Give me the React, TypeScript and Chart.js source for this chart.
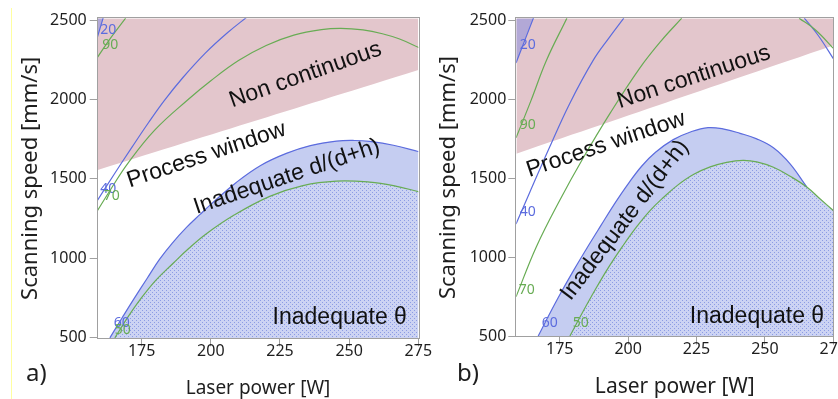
import React, { useEffect, useRef } from "react";
import { Chart, registerables } from "chart.js";
Chart.register(...registerables);

// ---------- shared axis data ----------
const X_TICKS = [175, 200, 225, 250, 275];
const Y_TICKS = [500, 1000, 1500, 2000, 2500];
const X_LIMITS = [159.1, 275];
const A_Y_LIMITS = [497, 2511];
const B_Y_LIMITS = [496, 2514];

// ---------- panel a ----------
const A_PINK_W = [159.1, 275];
const A_PINK_V = [1557, 2186];
const A_C20_W = [159.0, 161.1];
const A_C20_V = [2393, 2515];
const A_C90_W = [159.0, 164, 169.2];
const A_C90_V = [2265, 2392, 2512];
const A_C40_W = [159, 165, 171.5, 177.5, 183.3, 190, 198, 206, 213.5];
const A_C40_V = [1365, 1528, 1700, 1855, 1996, 2140, 2292, 2420, 2525];
const A_C70_W = [159, 164, 170, 179.7, 191.8, 200, 210, 220, 230, 240, 247, 255, 262, 268, 275.5];
const A_C70_V = [1300, 1440, 1598, 1807, 2000, 2118, 2245, 2340, 2405, 2440, 2448, 2438, 2414, 2382, 2325];
const A_C60_W = [163.5, 168, 171.9, 177, 181.5, 186, 191.2, 196, 200, 209.2, 218, 227.3, 236, 245.4, 252, 257.4, 266, 275.5];
const A_C60_V = [500, 628, 737, 875, 995, 1095, 1195, 1275, 1340, 1478, 1585, 1661, 1710, 1738, 1742, 1736, 1712, 1670];
const A_C50_W = [165.3, 170, 174.3, 180, 186.3, 192, 198.4, 208, 221.3, 233.3, 245.4, 257.4, 266, 275.5];
const A_C50_V = [500, 630, 737, 860, 968, 1062, 1155, 1268, 1390, 1458, 1486, 1480, 1458, 1418];
const A_LABEL_TEXT = ["20", "90", "40", "70", "60", "50"];
const A_LABEL_W = [162.9, 163.6, 162.9, 164.2, 167.8, 168.2];
const A_LABEL_V = [2437, 2343, 1436, 1392, 592, 548];
const A_REGION_TEXT = ["Non continuous", "Process window", "Inadequate d/(d+h)", "Inadequate θ"];
const A_REGION_W = [234.2, 198.4, 227.5, 246.6];
const A_REGION_V = [2154, 1650, 1513, 630];

// ---------- panel b ----------
const B_PINK_W = [159.1, 275];
const B_PINK_V = [1656, 2342];
const B_C20_W = [159.0, 165.4];
const B_C20_V = [2231, 2517];
const B_C90_W = [159, 164.5, 170.1, 177.6];
const B_C90_V = [1756, 1994, 2247, 2515];
const B_C40_W = [159, 164, 171.3, 178.6, 187.2, 193, 198.4];
const B_C40_V = [1210, 1410, 1698, 1973, 2247, 2390, 2515];
const B_C70_W = [159, 166.4, 175, 183.6, 193.3, 204.3, 212, 219.6];
const B_C70_V = [749, 1065, 1361, 1630, 1910, 2200, 2370, 2515];
const B_TR_GREEN_W = [262.5, 268.5, 275.5];
const B_TR_GREEN_V = [2515, 2440, 2315];
const B_TR_BLUE_W = [264.4, 269.5, 275.5];
const B_TR_BLUE_V = [2515, 2405, 2245];
const B_C60_W = [167.1, 171, 175, 180, 185, 190, 195, 200, 205, 210, 216.5, 223, 229.2, 235, 240.9, 247, 253.1, 259.2, 265.3];
const B_C60_V = [500, 632, 762, 915, 1060, 1200, 1338, 1465, 1578, 1665, 1745, 1795, 1821, 1812, 1785, 1750, 1694, 1592, 1445];
const B_C50_W = [178.7, 183, 188, 193, 198, 203, 208, 213, 218, 224, 230, 236, 242, 247, 253.1, 259.2, 265.3, 270, 275.5];
const B_C50_V = [500, 640, 795, 940, 1070, 1190, 1295, 1380, 1455, 1525, 1572, 1601, 1614, 1604, 1570, 1513, 1445, 1372, 1288];
const B_LABEL_TEXT = ["20", "90", "40", "70", "60", "50"];
const B_LABEL_W = [163.3, 163.3, 163.3, 162.9, 171.3, 182.7];
const B_LABEL_V = [2342, 1835, 1285, 791, 582, 582];
const B_REGION_TEXT = ["Non continuous", "Process window", "Inadequate d/(d+h)", "Inadequate θ"];
const B_REGION_W = [224, 191.9, 198.8, 247.1];
const B_REGION_V = [2141, 1714, 1234, 620];

// ---------- styles ----------
const BLUE = "rgb(92,108,222)";
const GREEN = "rgb(104,172,84)";
const PINK = "rgb(227,198,204)";
const PURPLE = "rgb(178,168,214)";
const BAND = "rgb(197,205,241)";
const AXIS_GRAY = "rgb(160,160,160)";
const TEXT = "#1e1e1e";
const AXIS_FONT = '"Noto Sans", sans-serif';
const REGION_FONT = '"Liberation Sans", Arial, sans-serif';

const pts = (w: number[], v: number[]) => w.map((x, i) => ({ x, y: v[i] }));

function makePattern(): CanvasPattern | string {
  const c = document.createElement("canvas");
  c.width = 4;
  c.height = 4;
  const g = c.getContext("2d");
  if (!g) return BAND;
  g.fillStyle = "rgb(204,211,243)";
  g.fillRect(0, 0, 4, 4);
  g.fillStyle = "rgb(140,156,228)";
  g.fillRect(0, 0, 1, 1);
  g.fillRect(2, 2, 1, 1);
  return g.createPattern(c, "repeat") || BAND;
}

interface Spec {
  yLimits: number[];
  pink: [number[], number[]];
  corner: [number[], number[]];
  band: [number[], number[]];
  dotted: [number[], number[]];
  blue: [number[], number[]][];
  green: [number[], number[]][];
  labelText: string[];
  labelW: number[];
  labelV: number[];
  labelColors: string[];
  regionText: string[];
  regionW: number[];
  regionV: number[];
  regionAngles: number[];
  yAxisWidth: number;
  xAxisHeight: number;
  padTop: number;
  padRight: number;
  xTitleSize: number;
  xTitlePad: number;
  yTickPad: number;
}

function build(canvas: HTMLCanvasElement, s: Spec) {
  const pattern = makePattern();
  const fillSet = (d: [number[], number[]], fill: string, bg: any, order: number) => ({
    data: pts(d[0], d[1]),
    borderColor: "rgba(0,0,0,0)",
    borderWidth: 0,
    backgroundColor: bg,
    fill,
    order,
    pointRadius: 0,
    tension: 0.4,
  });
  const lineSet = (d: [number[], number[]], color: string, order: number) => ({
    data: pts(d[0], d[1]),
    borderColor: color,
    borderWidth: 1.2,
    fill: false,
    order,
    pointRadius: 0,
    tension: 0.4,
  });
  const datasets: any[] = [
    fillSet(s.pink, "end", PINK, 50),
    fillSet(s.corner, "end", PURPLE, 49),
    fillSet(s.band, "start", BAND, 48),
    fillSet(s.dotted, "start", pattern, 47),
    ...s.blue.map((d) => lineSet(d, BLUE, 2)),
    ...s.green.map((d) => lineSet(d, GREEN, 1)),
  ];

  const overlay = {
    id: "overlay",
    afterDatasetsDraw(chart: any) {
      const { ctx, chartArea: a } = chart;
      const xs = chart.scales.x;
      const ys = chart.scales.y;
      ctx.save();
      ctx.beginPath();
      ctx.rect(a.left, a.top, a.right - a.left, a.bottom - a.top);
      ctx.clip();
      ctx.textAlign = "center";
      ctx.textBaseline = "middle";
      ctx.font = `14px ${AXIS_FONT}`;
      s.labelText.forEach((t, i) => {
        ctx.fillStyle = s.labelColors[i];
        ctx.fillText(t, xs.getPixelForValue(s.labelW[i]), ys.getPixelForValue(s.labelV[i]));
      });
      ctx.font = `23px ${REGION_FONT}`;
      ctx.fillStyle = "#111";
      s.regionText.forEach((t, i) => {
        ctx.save();
        ctx.translate(xs.getPixelForValue(s.regionW[i]), ys.getPixelForValue(s.regionV[i]));
        ctx.rotate((s.regionAngles[i] * Math.PI) / 180);
        ctx.fillText(t, 0, 0);
        ctx.restore();
      });
      ctx.restore();
      ctx.save();
      ctx.strokeStyle = AXIS_GRAY;
      ctx.lineWidth = 1;
      ctx.strokeRect(Math.round(a.left) - 0.5, Math.round(a.top) - 0.5, Math.round(a.right - a.left) + 1, Math.round(a.bottom - a.top) + 1);
      ctx.restore();
    },
  };

  return new Chart(canvas, {
    type: "line",
    data: { datasets },
    plugins: [overlay],
    options: {
      animation: false,
      responsive: false,
      events: [],
      layout: { padding: { left: 0, top: s.padTop, right: s.padRight, bottom: 0 } },
      plugins: { legend: { display: false }, tooltip: { enabled: false } },
      scales: {
        x: {
          type: "linear",
          min: X_LIMITS[0],
          max: X_LIMITS[1],
          afterBuildTicks: (sc: any) => {
            sc.ticks = X_TICKS.map((v) => ({ value: v }));
          },
          afterFit: (sc: any) => {
            sc.height = s.xAxisHeight;
          },
          border: { display: false },
          grid: { drawOnChartArea: false, drawTicks: true, tickLength: 8, color: AXIS_GRAY },
          ticks: {
            font: { family: AXIS_FONT, size: 16, lineHeight: 1 },
            color: TEXT,
            padding: -3,
            maxRotation: 0,
            autoSkip: false,
            callback: (v: any) => String(v),
          },
          title: {
            display: true,
            text: "Laser power [W]",
            font: { family: AXIS_FONT, size: s.xTitleSize, lineHeight: 1 },
            color: TEXT,
            padding: { top: 0, bottom: s.xTitlePad },
          },
        },
        y: {
          type: "linear",
          min: s.yLimits[0],
          max: s.yLimits[1],
          afterBuildTicks: (sc: any) => {
            sc.ticks = Y_TICKS.map((v) => ({ value: v }));
          },
          afterFit: (sc: any) => {
            sc.width = s.yAxisWidth;
          },
          border: { display: false },
          grid: { drawOnChartArea: false, drawTicks: true, tickLength: 8, color: AXIS_GRAY },
          ticks: {
            font: { family: AXIS_FONT, size: 16 },
            color: TEXT,
            padding: s.yTickPad,
            autoSkip: false,
            callback: (v: any) => String(v),
          },
          title: {
            display: true,
            text: "Scanning speed [mm/s]",
            font: { family: AXIS_FONT, size: 22, lineHeight: 1.2 },
            color: TEXT,
            padding: { top: 17.8, bottom: 0 },
          },
        },
      },
    } as any,
  });
}

const LABEL_COLORS = [BLUE, GREEN, BLUE, GREEN, BLUE, GREEN];

const SPEC_A: Spec = {
  yLimits: A_Y_LIMITS,
  pink: [A_PINK_W, A_PINK_V],
  corner: [A_C20_W, A_C20_V],
  band: [A_C60_W, A_C60_V],
  dotted: [A_C50_W, A_C50_V],
  blue: [[A_C20_W, A_C20_V], [A_C40_W, A_C40_V], [A_C60_W, A_C60_V]],
  green: [[A_C90_W, A_C90_V], [A_C70_W, A_C70_V], [A_C50_W, A_C50_V]],
  labelText: A_LABEL_TEXT,
  labelW: A_LABEL_W,
  labelV: A_LABEL_V,
  labelColors: LABEL_COLORS,
  regionText: A_REGION_TEXT,
  regionW: A_REGION_W,
  regionV: A_REGION_V,
  regionAngles: [-19.4, -18.5, -18.6, 0],
  yAxisWidth: 97.7,
  xAxisHeight: 60.7,
  padTop: 18.3,
  padRight: 21.7,
  xTitleSize: 19,
  xTitlePad: 1,
  yTickPad: 3,
};

const SPEC_B: Spec = {
  yLimits: B_Y_LIMITS,
  pink: [B_PINK_W, B_PINK_V],
  corner: [B_C20_W, B_C20_V],
  band: [B_C60_W, B_C60_V],
  dotted: [B_C50_W, B_C50_V],
  blue: [[B_C20_W, B_C20_V], [B_C40_W, B_C40_V], [B_TR_BLUE_W, B_TR_BLUE_V], [B_C60_W, B_C60_V]],
  green: [[B_C90_W, B_C90_V], [B_C70_W, B_C70_V], [B_TR_GREEN_W, B_TR_GREEN_V], [B_C50_W, B_C50_V]],
  labelText: B_LABEL_TEXT,
  labelW: B_LABEL_W,
  labelV: B_LABEL_V,
  labelColors: LABEL_COLORS,
  regionText: B_REGION_TEXT,
  regionW: B_REGION_W,
  regionV: B_REGION_V,
  regionAngles: [-18.2, -18.5, -52.5, 0],
  yAxisWidth: 98.3,
  xAxisHeight: 62.3,
  padTop: 18.3,
  padRight: 24.7,
  xTitleSize: 21,
  xTitlePad: 1,
  yTickPad: 2,
};

export default function App() {
  const refA = useRef<HTMLCanvasElement>(null);
  const refB = useRef<HTMLCanvasElement>(null);
  useEffect(() => {
    if (!refA.current || !refB.current) return;
    const ca = build(refA.current, SPEC_A);
    const cb = build(refB.current, SPEC_B);
    return () => {
      ca.destroy();
      cb.destroy();
    };
  }, []);
  return (
    <div style={{ position: "fixed", left: 0, top: 0, width: 838, height: 399, overflow: "hidden", background: "#fff" }}>
      <div style={{ position: "absolute", left: 11, top: 8, width: 1, height: 391, background: "rgb(255,255,160)" }} />
      <canvas ref={refA} width={440} height={399} style={{ position: "absolute", left: 0, top: 0, width: 440, height: 399 }} />
      <canvas ref={refB} width={440} height={399} style={{ position: "absolute", left: 418, top: 0, width: 440, height: 399 }} />
      <div style={{ position: "absolute", left: 26, top: 357, font: `24px ${AXIS_FONT}`, color: TEXT, lineHeight: "30px" }}>a)</div>
      <div style={{ position: "absolute", left: 457, top: 357, font: `24px ${AXIS_FONT}`, color: TEXT, lineHeight: "30px" }}>b)</div>
    </div>
  );
}
